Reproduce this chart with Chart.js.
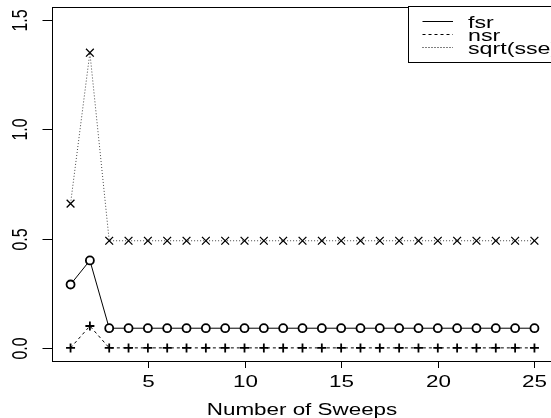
<!DOCTYPE html>
<html>
<head>
<meta charset="utf-8">
<script src="https://cdn.jsdelivr.net/npm/chart.js@4/dist/chart.umd.min.js"></script>
<style>
  html, body { margin: 0; padding: 0; background: #fff; overflow: hidden; }
  #wrap { width: 551px; height: 418px; overflow: hidden; }
</style>
</head>
<body>
<div id="wrap"><canvas id="chart" width="560" height="418"></canvas></div>
<script>
// sweep numbers on the x axis
const sweeps = [1, 2, 3, 4, 5, 6, 7, 8, 9, 10, 11, 12, 13, 14, 15, 16, 17, 18, 19, 20, 21, 22, 23, 24, 25];

// series
const fsr = [0.29, 0.40, 0.09, 0.09, 0.09, 0.09, 0.09, 0.09, 0.09, 0.09, 0.09, 0.09, 0.09,
    0.09, 0.09, 0.09, 0.09, 0.09, 0.09, 0.09, 0.09, 0.09, 0.09, 0.09, 0.09];
const nsr = [0.00, 0.10, 0.00, 0.00, 0.00, 0.00, 0.00, 0.00, 0.00, 0.00, 0.00, 0.00, 0.00,
    0.00, 0.00, 0.00, 0.00, 0.00, 0.00, 0.00, 0.00, 0.00, 0.00, 0.00, 0.00];
const sqrtSse = [0.66, 1.35, 0.49, 0.49, 0.49, 0.49, 0.49, 0.49, 0.49, 0.49, 0.49, 0.49, 0.49,
    0.49, 0.49, 0.49, 0.49, 0.49, 0.49, 0.49, 0.49, 0.49, 0.49, 0.49, 0.49];

const seriesNames = ['fsr', 'nsr', 'sqrt(sse)'];
const xTicks = [5, 10, 15, 20, 25];
const yTicks = [0, 0.5, 1.0, 1.5];
const yTickLabels = ['0.0', '0.5', '1.0', '1.5'];
const xTitle = 'Number of Sweeps';

const FONT = '16px "Liberation Sans", Arial, sans-serif';
const SX = 1.4; // the reference text is stretched sideways

const toPoints = values => sweeps.map((s, i) => ({ x: s, y: values[i] }));

function stretchText(ctx, text, x, y, align, baseline, rotate, sx = SX) {
    ctx.save();
    ctx.translate(x, y);
    ctx.scale(sx, 1);
    if (rotate) ctx.rotate(-Math.PI / 2);
    ctx.font = FONT;
    ctx.fillStyle = '#000';
    ctx.textAlign = align;
    ctx.textBaseline = baseline;
    ctx.fillText(text, 0, 0);
    ctx.restore();
}

const rAxes = {
    id: 'rAxes',
    afterDraw(chart) {
        const { ctx, chartArea: a, scales: { x, y } } = chart;
        ctx.save();
        ctx.strokeStyle = '#000';
        ctx.lineWidth = 1;
        ctx.setLineDash([]);

        // plot box
        ctx.strokeRect(Math.round(a.left) + 0.5, Math.round(a.top) + 0.5,
            Math.round(a.right - a.left), Math.round(a.bottom - a.top));

        // y axis ticks and labels
        yTicks.forEach((v, i) => {
            const py = Math.round(y.getPixelForValue(v)) + 0.5;
            ctx.beginPath();
            ctx.moveTo(a.left - 9.5, py);
            ctx.lineTo(a.left, py);
            ctx.stroke();
            stretchText(ctx, yTickLabels[i], 20.5, py, 'center', 'middle', true);
        });

        // x axis ticks and labels
        xTicks.forEach(v => {
            const px = Math.round(x.getPixelForValue(v)) + 0.5;
            ctx.beginPath();
            ctx.moveTo(px, a.bottom);
            ctx.lineTo(px, a.bottom + 7);
            ctx.stroke();
            stretchText(ctx, String(v), px, 387, 'center', 'alphabetic');
        });

        stretchText(ctx, xTitle, 302, 415, 'center', 'alphabetic');

        // legend
        const lx = 408.5, ly = 6.5;
        ctx.fillStyle = '#fff';
        ctx.fillRect(lx, ly, 200, 56);
        ctx.strokeRect(lx, ly, 200, 56);
        const dashes = [[], [3, 3], [1, 2]];
        const rows = [21.5, 34.5, 47.5];
        seriesNames.forEach((name, i) => {
            ctx.beginPath();
            ctx.setLineDash(dashes[i]);
            ctx.moveTo(422.5, rows[i]);
            ctx.lineTo(453, rows[i]);
            ctx.stroke();
            ctx.setLineDash([]);
            stretchText(ctx, name, 468, rows[i] + 6.5, 'left', 'alphabetic', false, 1.45);
        });
        ctx.restore();
    }
};

new Chart(document.getElementById('chart'), {
    type: 'line',
    data: {
        datasets: [
            {
                label: seriesNames[0],
                data: toPoints(fsr),
                borderColor: '#000',
                borderWidth: 1,
                pointStyle: 'circle',
                pointRadius: 4,
                pointBorderWidth: 1.8,
                pointBorderColor: '#000',
                pointBackgroundColor: '#fff'
            },
            {
                label: seriesNames[1],
                data: toPoints(nsr),
                borderColor: '#000',
                borderWidth: 1,
                borderDash: [3, 3],
                pointStyle: 'cross',
                pointRadius: 4.5,
                pointBorderWidth: 1.8,
                pointBorderColor: '#000'
            },
            {
                label: seriesNames[2],
                data: toPoints(sqrtSse),
                borderColor: '#444',
                borderWidth: 1,
                borderDash: [1, 2],
                pointStyle: 'crossRot',
                pointRadius: 5.5,
                pointBorderWidth: 1.3,
                pointBorderColor: '#000'
            }
        ]
    },
    options: {
        responsive: false,
        animation: false,
        devicePixelRatio: 1,
        layout: { padding: { left: 0, top: 6, right: 7, bottom: 0 } },
        plugins: { legend: { display: false }, tooltip: { enabled: false } },
        elements: { line: { tension: 0 } },
        scales: {
            x: {
                type: 'linear',
                min: 0.04,
                max: 25.96,
                grid: { display: false },
                border: { display: false },
                ticks: { display: false },
                afterFit(scale) { scale.height = 57; }
            },
            y: {
                min: -0.06,
                max: 1.56,
                grid: { display: false },
                border: { display: false },
                ticks: { display: false },
                afterFit(scale) { scale.width = 52; }
            }
        }
    },
    plugins: [rAxes]
});
</script>
</body>
</html>
